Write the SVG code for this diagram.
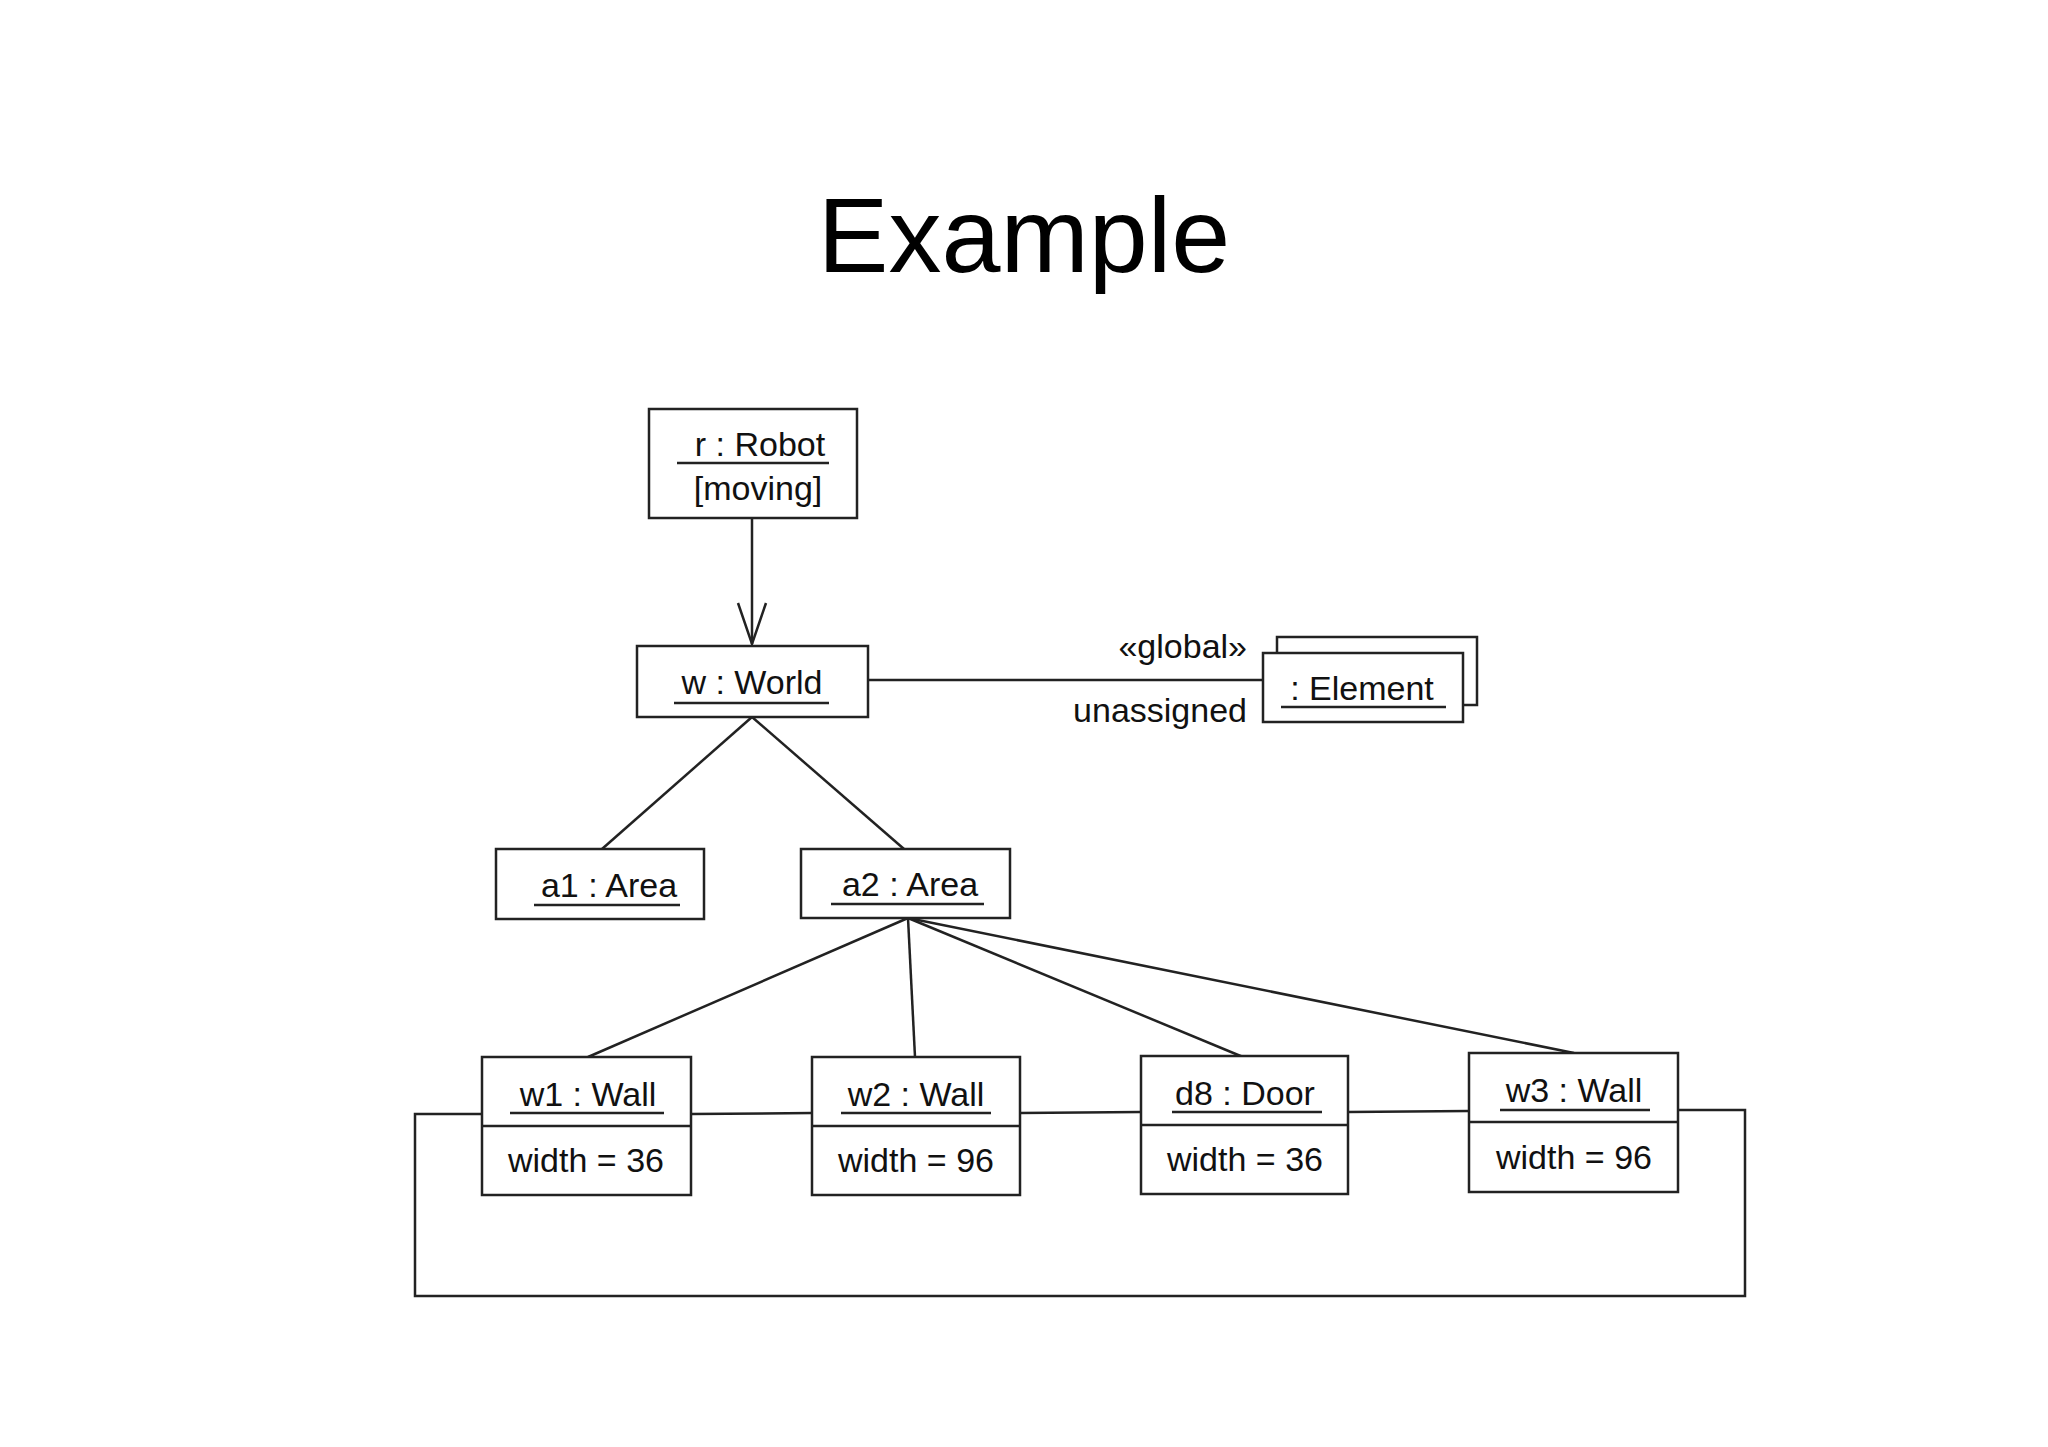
<svg xmlns="http://www.w3.org/2000/svg" width="2048" height="1447" viewBox="0 0 2048 1447">
<style>
.b{fill:#fff;stroke:#222;stroke-width:2.5}
.l{fill:none;stroke:#222;stroke-width:2.5}
text{font-family:"Liberation Sans",Arial,sans-serif;font-size:34px;fill:#111;text-anchor:middle}
.u{stroke:#222;stroke-width:2.5}
</style>
<rect width="2048" height="1447" fill="#fff"/>
<text x="1024" y="272" style="font-size:106px;fill:#000">Example</text>
<g id="connectors">
<line class="l" x1="752" y1="518" x2="752" y2="644"/>
<polyline class="l" points="738,603 752,644 766,603"/>
<line class="l" x1="868" y1="680" x2="1263" y2="680"/>
<line class="l" x1="752" y1="717" x2="602" y2="849"/>
<line class="l" x1="752" y1="717" x2="904" y2="849"/>
<line class="l" x1="908" y1="918" x2="588" y2="1057"/>
<line class="l" x1="908" y1="918" x2="915" y2="1057"/>
<line class="l" x1="908" y1="918" x2="1243" y2="1057"/>
<line class="l" x1="908" y1="918" x2="1574" y2="1053"/>
<polyline class="l" points="482,1114 415,1114 415,1296 1745,1296 1745,1110 1678,1110"/>
<line class="l" x1="691" y1="1114" x2="812" y2="1113"/>
<line class="l" x1="1020" y1="1113" x2="1141" y2="1112"/>
<line class="l" x1="1348" y1="1112" x2="1469" y2="1111"/>
<text x="1247" y="658" style="text-anchor:end">«global»</text>
<text x="1247" y="722" style="text-anchor:end">unassigned</text>
</g>
<g id="robot">
<rect class="b" x="649" y="409" width="208" height="109"/>
<text x="760" y="456">r : Robot</text>
<line class="u" x1="677" y1="463" x2="829" y2="463"/>
<text x="758" y="500">[moving]</text>
</g>
<g id="world">
<rect class="b" x="637" y="646" width="231" height="71"/>
<text x="752" y="694">w : World</text>
<line class="u" x1="674" y1="703" x2="829" y2="703"/>
</g>
<g id="element">
<rect class="b" x="1277" y="637" width="200" height="68"/>
<rect class="b" x="1263" y="653" width="200" height="69"/>
<text x="1362" y="700">: Element</text>
<line class="u" x1="1281" y1="707" x2="1446" y2="707"/>
</g>
<g id="a1">
<rect class="b" x="496" y="849" width="208" height="70"/>
<text x="609" y="897">a1 : Area</text>
<line class="u" x1="534" y1="905" x2="680" y2="905"/>
</g>
<g id="a2">
<rect class="b" x="801" y="849" width="209" height="69"/>
<text x="910" y="896">a2 : Area</text>
<line class="u" x1="831" y1="904" x2="984" y2="904"/>
</g>
<g id="w1">
<rect class="b" x="482" y="1057" width="209" height="138"/>
<line class="l" x1="482" y1="1126" x2="691" y2="1126"/>
<text x="588" y="1106">w1 : Wall</text>
<line class="u" x1="510" y1="1113" x2="664" y2="1113"/>
<text x="586" y="1172">width = 36</text>
</g>
<g id="w2">
<rect class="b" x="812" y="1057" width="208" height="138"/>
<line class="l" x1="812" y1="1126" x2="1020" y2="1126"/>
<text x="916" y="1106">w2 : Wall</text>
<line class="u" x1="841" y1="1113" x2="991" y2="1113"/>
<text x="916" y="1172">width = 96</text>
</g>
<g id="d8">
<rect class="b" x="1141" y="1056" width="207" height="138"/>
<line class="l" x1="1141" y1="1125" x2="1348" y2="1125"/>
<text x="1245" y="1105">d8 : Door</text>
<line class="u" x1="1172" y1="1112" x2="1322" y2="1112"/>
<text x="1245" y="1171">width = 36</text>
</g>
<g id="w3">
<rect class="b" x="1469" y="1053" width="209" height="139"/>
<line class="l" x1="1469" y1="1122" x2="1678" y2="1122"/>
<text x="1574" y="1102">w3 : Wall</text>
<line class="u" x1="1500" y1="1110" x2="1650" y2="1110"/>
<text x="1574" y="1169">width = 96</text>
</g>
</svg>
